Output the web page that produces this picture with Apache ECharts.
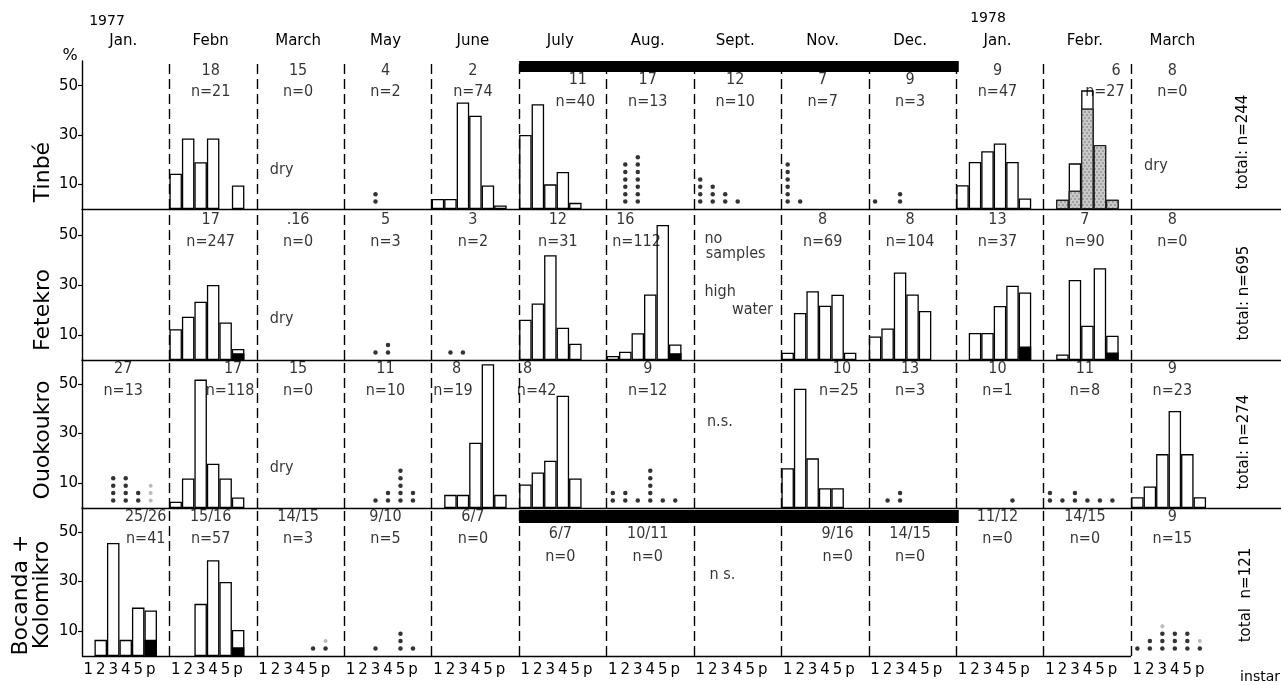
<!DOCTYPE html>
<html><head><meta charset="utf-8">
<script src="https://cdn.jsdelivr.net/npm/echarts@6/dist/echarts.min.js"></script>
<style>html,body{margin:0;padding:0;background:#fff}#c{width:1281px;height:685px}</style>
</head><body><div id="c"></div>
<script>
// ---------- DATA ----------
const months = ['Jan.','Febn','March','May','June','July','Aug.','Sept.','Nov.','Dec.','Jan.','Febr.','March'];
const years = ['1977','1978'];
const instars = ['1','2','3','4','5','p'];
const siteNames = ['Tinbé','Fetekro','Ouokoukro','Bocanda +','Kolomikro'];
const totals = ['total: n=244','total: n=695','total: n=274','total  n=121'];

// Tinbé
const tinbeDates = ['','18','15','4','2','11','17','12','7','9','9','6','8'];
const tinbeN = [null,21,0,2,74,40,13,10,7,3,47,27,0];
const tinbeBars = [null,[14.3,28.6,19,28.6,0,9.5],null,null,[4.1,4.1,43.2,37.8,9.5,1.4],[30,42.5,10,15,2.5,0],null,null,null,null,[9.6,19.1,23.4,26.6,19.1,4.3],[0,3.7,18.5,48.1,25.9,3.7],null];
const tinbeStippled = [null,null,null,null,null,null,null,null,null,null,null,[0,3.7,7.4,40.7,25.9,3.7],null];
const tinbeBlack = [null,null,null,null,null,null,null,null,null,null,null,null,null];
const tinbeDots = [null,null,null,[0,0,2,0,0,0],null,null,[0,6,7,0,0,0],[4,3,2,1,0,0],[6,1,0,0,0,0],[1,0,2,0,0,0],null,null,null];
const tinbeFaint = [null,null,null,null,null,null,null,null,null,null,null,null,null];

// Fetekro
const fetekroDates = ['','17','.16','5','3','12','16','','8','8','13','7','8'];
const fetekroN = [null,247,0,3,2,31,112,null,69,104,37,90,0];
const fetekroBars = [null,[12.3,17.3,23.3,30,15,4.4],null,null,null,[16.1,22.6,41.9,12.9,6.5,0],[1.6,3.3,10.7,26.2,54,6.2],null,[2.9,18.8,27.5,21.7,26.1,2.9],[9.4,12.6,35,26.2,19.6,0],[0,10.8,10.8,21.6,29.7,27],[0,2.2,32,13.7,36.7,9.7],null];
const fetekroStippled = [null,null,null,null,null,null,null,null,null,null,null,null,null];
const fetekroBlack = [null,[0,0,0,0,0,2.7],null,null,null,null,[0,0,0,0,0,2.7],null,null,null,[0,0,0,0,0,5.4],[0,0,0,0,0,3],null];
const fetekroDots = [null,null,null,[0,0,1,2,0,0],[0,1,1,0,0,0],null,null,null,null,null,null,null,null];
const fetekroFaint = [null,null,null,null,null,null,null,null,null,null,null,null,null];

// Ouokoukro
const ouokDates = ['27','17','15','11','8','.8','9','','10','13','10','11','9'];
const ouokN = [13,118,0,10,19,42,12,null,25,3,1,8,23];
const ouokBars = [null,[2.5,11.9,51.7,17.8,11.9,4.2],null,null,[0,5.3,5.3,26.3,57.9,5.3],[9.5,14.3,19,45.2,11.9,0],null,null,[16,48,20,8,8,0],null,null,null,[4.3,8.7,21.7,39.1,21.7,4.3]];
const ouokStippled = [null,null,null,null,null,null,null,null,null,null,null,null,null];
const ouokBlack = [null,null,null,null,null,null,null,null,null,null,null,null,null];
const ouokDots = [[0,0,4,4,2,0],null,null,[0,0,1,2,5,2],null,null,[2,2,1,5,1,1],null,null,[0,1,2,0,0,0],[0,0,0,0,1,0],[2,1,2,1,1,1],null];
const ouokFaint = [[0,0,0,0,0,3],null,null,null,null,null,null,null,null,null,null,null,null];

// Bocanda + Kolomikro
const bocDates = ['25/26','15/16','14/15','9/10','6/7','6/7','10/11','','9/16','14/15','11/12','14/15','9'];
const bocN = [41,57,3,5,0,0,0,null,0,0,0,0,15];
const bocBars = [[0,6.5,45.5,6.5,19.5,18.3],[0,0,21,38.6,29.8,10.5],null,null,null,null,null,null,null,null,null,null,null];
const bocStippled = [null,null,null,null,null,null,null,null,null,null,null,null,null];
const bocBlack = [[0,0,0,0,0,6.5],[0,0,0,0,0,3.5],null,null,null,null,null,null,null,null,null,null,null];
const bocDots = [null,null,[0,0,0,0,1,1],[0,0,1,0,3,1],null,null,null,null,null,null,null,null,[1,2,3,3,3,1]];
const bocFaint = [null,null,[0,0,0,0,0,1],null,null,null,null,null,null,null,null,null,[0,0,1,0,0,1]];

// ---------- LAYOUT (not data) ----------
const FONT = "'DejaVu Sans Condensed','DejaVu Sans',sans-serif";
const WFONT = "'DejaVu Sans',sans-serif";
const SLOTS = 7, XMAX = 96;
const gridTops = [61, 210, 359, 507];
const gridBottoms = [209, 360, 508, 656];
const labelShift = [
  {5:[1.2,1.0], 11:[2.3,1.4]},
  {5:[-0.4,-0.4], 6:[-2.0,-1.1]},
  {1:[1.6,1.35], 4:[-1.5,-1.8], 5:[-3.0,-2.1], 8:[1.35,1.1]},
  {0:[1.6,1.6], 8:[1.0,1.0]}
];
const notes = [
  [0,2,1.0,16,'dry'],[0,12,1.0,17.5,'dry'],[1,2,1.0,16.4,'dry'],[2,2,1.0,16,'dry'],
  [1,7,0.8,48.4,'no'],[1,7,0.9,42.4,'samples'],[1,7,0.8,27.2,'high'],[1,7,3.0,20,'water'],
  [2,7,1.0,34.7,'n.s.'],[3,7,1.2,32.7,'n s.']
];

const rows = [
  {dates:tinbeDates, n:tinbeN, bars:tinbeBars, stip:tinbeStippled, black:tinbeBlack, dots:tinbeDots, faint:tinbeFaint},
  {dates:fetekroDates, n:fetekroN, bars:fetekroBars, stip:fetekroStippled, black:fetekroBlack, dots:fetekroDots, faint:fetekroFaint},
  {dates:ouokDates, n:ouokN, bars:ouokBars, stip:ouokStippled, black:ouokBlack, dots:ouokDots, faint:ouokFaint},
  {dates:bocDates, n:bocN, bars:bocBars, stip:bocStippled, black:bocBlack, dots:bocDots, faint:bocFaint}
];

function barData(arr){
  const d=[];
  arr.forEach((col,c)=>{ if(!col) return; col.forEach((v,s)=>{ if(v>0) d.push([c*SLOTS+s+0.5, v]); }); });
  return d;
}
function dotData(dots, faint, wantFaint){
  const d=[];
  dots.forEach((col,c)=>{
    const fcol = faint[c];
    for(let s=0;s<6;s++){
      const cnt = col ? col[s] : 0;
      if(!wantFaint){ for(let k=1;k<=cnt;k++) d.push([c*SLOTS+s+0.5, 3*k]); }
      else if(fcol){ for(let k=1;k<=fcol[s];k++) d.push([c*SLOTS+s+0.5, 3*(cnt+k)]); }
    }
  });
  if(wantFaint){
    faint.forEach((fcol,c)=>{ if(fcol && !dots[c]) for(let s=0;s<6;s++) for(let k=1;k<=fcol[s];k++) d.push([c*SLOTS+s+0.5,3*k]); });
  }
  return d;
}

const grids=[], xAxes=[], yAxes=[], series=[];
const bottomVals=[];
for(let c=0;c<13;c++) for(let s=0;s<6;s++) bottomVals.push(c*SLOTS+s+0.5);

rows.forEach((r,i)=>{
  grids.push({left:82, width:1200, top:gridTops[i], height:gridBottoms[i]-gridTops[i]});
  xAxes.push({type:'value', gridIndex:i, min:0, max:XMAX, position:'bottom',
    axisLine:{show:i<3, onZero:false, lineStyle:{color:'#000', width:1.4}},
    axisTick:{show:false}, splitLine:{show:false},
    axisLabel: i===3 ? {show:true, customValues:bottomVals, formatter:v=>instars[Math.floor(v)%SLOTS],
      fontFamily:WFONT, fontSize:15, color:'#000', margin:7} : {show:false}
  });
  yAxes.push({type:'value', gridIndex:i, min:0, max:60, interval:10,
    axisLine:{show:true, lineStyle:{color:'#000', width:1.4}},
    axisTick:{show:true, customValues:[10,30,50], length:4, lineStyle:{color:'#000', width:1.2}},
    axisLabel:{customValues:[10,30,50], fontFamily:WFONT, fontSize:15, color:'#000', margin:4},
    splitLine:{show:false}
  });
  const base = {xAxisIndex:i, yAxisIndex:i, silent:true};
  series.push(Object.assign({type:'bar', name:'open'+i, data:barData(r.bars), barWidth:12.5, barGap:'-100%', z:2,
    itemStyle:{color:'#fff', borderColor:'#000', borderWidth:1.3}}, base));
  series.push(Object.assign({type:'bar', name:'stip'+i, data:barData(r.stip), barWidth:12.5, barGap:'-100%', z:3,
    itemStyle:{color:'#c9c9c9', borderColor:'#222', borderWidth:1,
      decal:{symbol:'circle', symbolSize:0.7, dashArrayX:[[2,2],[0,2,2,0]], dashArrayY:[2,1], color:'rgba(0,0,0,0.55)'}}}, base));
  series.push(Object.assign({type:'bar', name:'black'+i, data:barData(r.black), barWidth:12.5, barGap:'-100%', z:4,
    itemStyle:{color:'#000', borderColor:'#000', borderWidth:1.3}}, base));
  series.push(Object.assign({type:'scatter', name:'dots'+i, data:dotData(r.dots, r.faint, false), symbol:'circle', symbolSize:4.5, z:5,
    itemStyle:{color:'#000'}}, base));
  series.push(Object.assign({type:'scatter', name:'faint'+i, data:dotData(r.dots, r.faint, true), symbol:'circle', symbolSize:4, z:5,
    itemStyle:{color:'#aaa'}}, base));
  const ld=[];
  for(let c=0;c<13;c++){
    const under = c>=5 && c<=9;
    let yd=56, yn=47.3;
    if(under && i===0){yd=52.4; yn=43.5;}
    if(under && i===3){yd=49.2; yn=40;}
    const sh = labelShift[i][c] || [-0.2,-0.2];
    if(r.dates[c]) ld.push({value:[c*SLOTS+3.5+sh[0], yd], name:r.dates[c]});
    if(r.n[c]!==null) ld.push({value:[c*SLOTS+3.5+sh[1], yn], name:'n='+r.n[c]});
  }
  notes.filter(n=>n[0]===i).forEach(n=>ld.push({value:[n[1]*SLOTS+n[2], n[3]], name:n[4], label:{position:'right', distance:0}}));
  series.push(Object.assign({type:'scatter', name:'labels'+i, data:ld, symbol:'circle', symbolSize:1, z:6, clip:false,
    itemStyle:{color:'rgba(0,0,0,0)'},
    label:{show:true, position:'inside', formatter:p=>p.name, fontFamily:FONT, fontSize:16, color:'#000'}}, base));
  const ml=[];
  for(let c=1;c<13;c++) ml.push({xAxis:c*SLOTS});
  if(i===3) ml.push([{coord:[0,0], lineStyle:{type:'solid', width:1.4}},{coord:[84,0]}]);
  series.push(Object.assign({type:'line', name:'frame'+i, data:[], z:1,
    markLine:{silent:true, symbol:['none','none'], label:{show:false}, animation:false,
      lineStyle:{type:[10,5], color:'#000', width:1.4}, data:ml}}, base));
  if(i===0 || i===3){
    const yb = i===0 ? [55.5,60] : [53.6,58.8];
    series.push(Object.assign({type:'line', name:'season'+i, data:[], z:7,
      markArea:{silent:true, itemStyle:{color:'#000'}, data:[[{coord:[35,yb[0]]},{coord:[70.2,yb[1]]}]]}}, base));
  }
});

const monthVals = months.map((m,c)=>c*SLOTS+3.3);
xAxes.push({type:'value', gridIndex:0, min:0, max:XMAX, position:'top',
  axisLine:{show:false}, axisTick:{show:false}, splitLine:{show:false},
  axisLabel:{show:true, customValues:monthVals, formatter:v=>months[Math.round((v-3.3)/SLOTS)],
    fontFamily:WFONT, fontSize:15, color:'#000', margin:12}
});

const txt = (x,y,t,opts)=>Object.assign({type:'text', x, y, style:Object.assign({text:t, fill:'#000', font:'15px '+WFONT, textAlign:'center', textVerticalAlign:'middle'}, opts||{})});
const graphic = [
  txt(107,21,years[0],{font:'14px '+WFONT}),
  txt(988,18,years[1],{font:'14px '+WFONT}),
  txt(70,56,'%',{font:'16px '+WFONT}),
  txt(1280,677,'instar',{font:'14px '+WFONT, textAlign:'right'}),
  Object.assign(txt(43,172,siteNames[0],{font:'22px '+WFONT}),{rotation:Math.PI/2}),
  Object.assign(txt(43,310,siteNames[1],{font:'22px '+WFONT}),{rotation:Math.PI/2}),
  Object.assign(txt(43,440,siteNames[2],{font:'22px '+WFONT}),{rotation:Math.PI/2}),
  Object.assign(txt(21,595,siteNames[3],{font:'22px '+WFONT}),{rotation:Math.PI/2}),
  Object.assign(txt(42,595,siteNames[4],{font:'22px '+WFONT}),{rotation:Math.PI/2}),
  Object.assign(txt(1243,142,totals[0],{font:'15px '+WFONT}),{rotation:Math.PI/2}),
  Object.assign(txt(1244,293,totals[1],{font:'15px '+WFONT}),{rotation:Math.PI/2}),
  Object.assign(txt(1244,442,totals[2],{font:'15px '+WFONT}),{rotation:Math.PI/2}),
  Object.assign(txt(1246,595,totals[3],{font:'15px '+WFONT}),{rotation:Math.PI/2})
];

const chart = echarts.init(document.getElementById('c'), null, {renderer:'canvas'});
chart.setOption({animation:false, backgroundColor:'#fff', grid:grids, xAxis:xAxes, yAxis:yAxes, series, graphic});
</script></body></html>
